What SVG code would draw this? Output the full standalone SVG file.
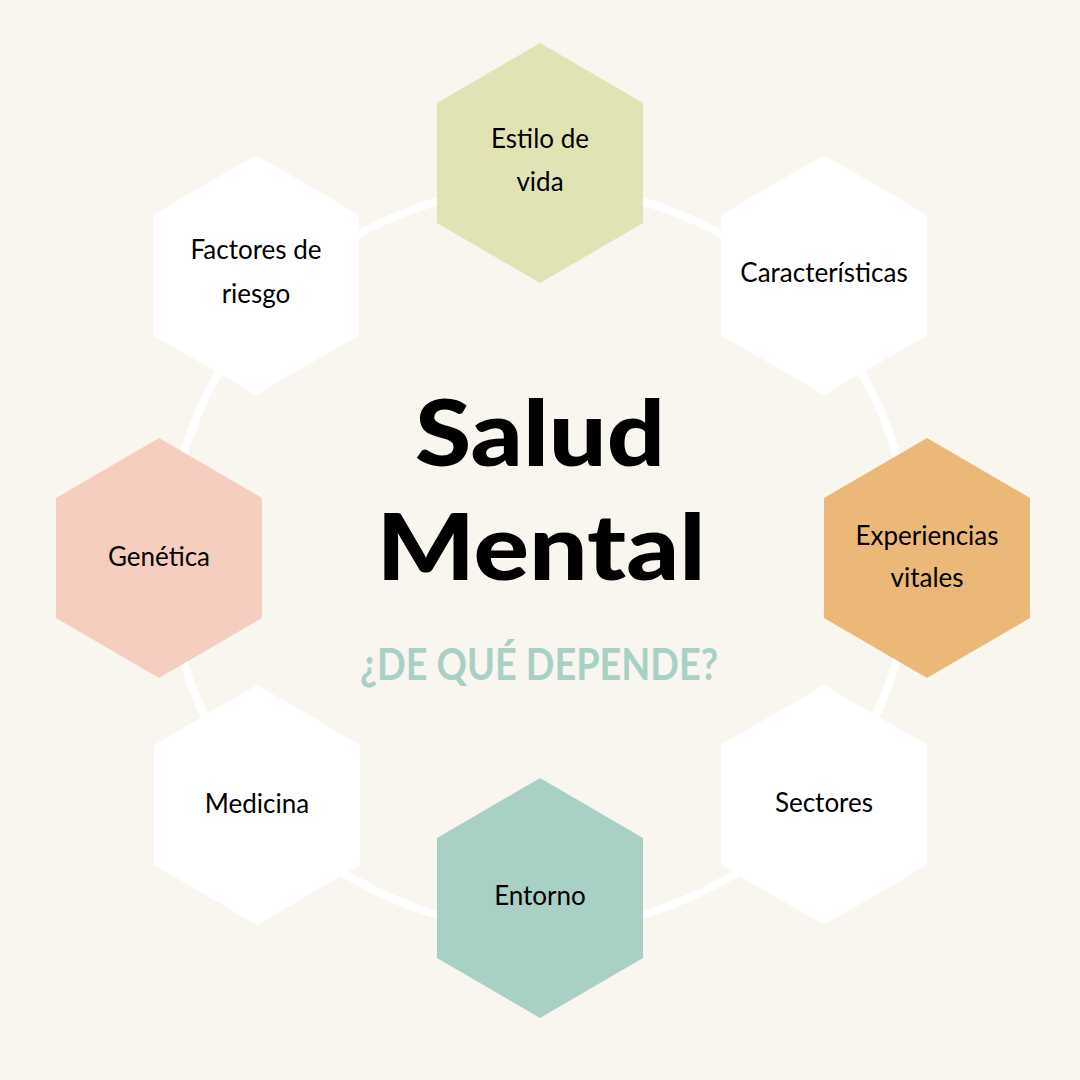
<svg xmlns="http://www.w3.org/2000/svg" width="1080" height="1080" viewBox="0 0 1080 1080">
  <defs>
    <style>
      .hex { stroke: none; }
      .lbl { font-family: Lato, "Noto Sans", "DejaVu Sans", sans-serif; font-size: 26px; fill: #000; text-anchor: middle; }
      .title { font-family: Lato, "Noto Sans", "DejaVu Sans", sans-serif; font-weight: 900; font-size: 92px; fill: #000; text-anchor: middle; }
      .sub { font-family: Lato, "Noto Sans", "DejaVu Sans", sans-serif; font-weight: 700; font-size: 44px; fill: #a8d0c5; text-anchor: middle; }
    </style>
    <polygon id="hexshape" points="0,-120 103,-60 103,60 0,120 -103,60 -103,-60"/>
  </defs>
  <rect width="1080" height="1080" fill="#f9f5ef"/>
  <g id="connectors">
    <circle cx="540" cy="558" r="371" fill="none" stroke="#ffffff" stroke-width="8"/>
  </g>
  <g id="node-estilo">
    <use href="#hexshape" x="540" y="163" fill="#e2e3b5"/>
    <text class="lbl" x="540" y="148">Estilo de</text>
    <text class="lbl" x="540" y="191">vida</text>
  </g>
  <g id="node-caracteristicas">
    <use href="#hexshape" x="824" y="275" fill="#ffffff"/>
    <text class="lbl" x="824" y="282">Características</text>
  </g>
  <g id="node-experiencias">
    <use href="#hexshape" x="927" y="558" fill="#ecb877"/>
    <text class="lbl" x="927" y="545">Experiencias</text>
    <text class="lbl" x="927" y="587">vitales</text>
  </g>
  <g id="node-sectores">
    <use href="#hexshape" x="824" y="805" fill="#ffffff"/>
    <text class="lbl" x="824" y="812">Sectores</text>
  </g>
  <g id="node-entorno">
    <use href="#hexshape" x="540" y="898" fill="#a8d0c5"/>
    <text class="lbl" x="540" y="905">Entorno</text>
  </g>
  <g id="node-medicina">
    <use href="#hexshape" x="257" y="805" fill="#ffffff"/>
    <text class="lbl" x="257" y="813">Medicina</text>
  </g>
  <g id="node-genetica">
    <use href="#hexshape" x="159" y="558" fill="#f6cec0"/>
    <text class="lbl" x="159" y="566">Genética</text>
  </g>
  <g id="node-factores">
    <use href="#hexshape" x="256" y="275" fill="#ffffff"/>
    <text class="lbl" x="256" y="259">Factores de</text>
    <text class="lbl" x="256" y="303">riesgo</text>
  </g>
  <g id="center">
    <text class="title" x="540" y="466" textLength="250" lengthAdjust="spacingAndGlyphs">Salud</text>
    <text class="title" x="541" y="580" textLength="329" lengthAdjust="spacingAndGlyphs">Mental</text>
    <text class="sub" x="539" y="680" textLength="358" lengthAdjust="spacingAndGlyphs">¿DE QUÉ DEPENDE?</text>
  </g>
</svg>
